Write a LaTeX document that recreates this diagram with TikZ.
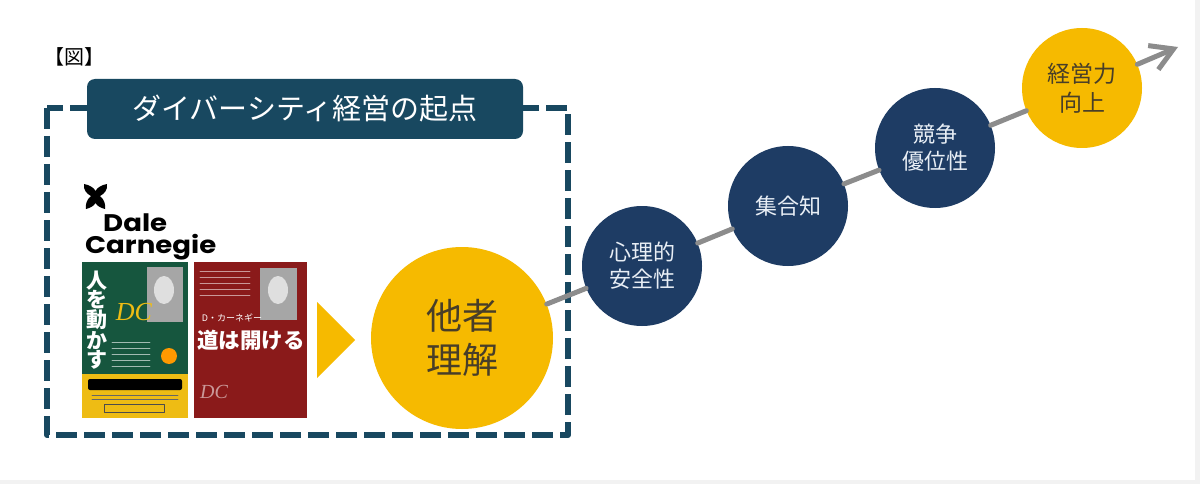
\documentclass[tikz,border=0pt]{standalone}
\usepackage{fontspec}
\setmainfont{Noto Sans CJK JP}
\newfontfamily\logofont{Poppins}
\newfontfamily\dcfont{Liberation Serif}
\usepackage{tikz}
\usetikzlibrary{positioning}
\usetikzlibrary{arrows.meta}
\usetikzlibrary{shapes}

\definecolor{frameteal}{RGB}{24,72,96}
\definecolor{stagenavy}{RGB}{30,60,100}
\definecolor{goalgold}{RGB}{246,186,0}
\definecolor{trendgray}{RGB}{140,140,140}
\definecolor{darktext}{RGB}{72,62,40}
\definecolor{paletext}{RGB}{232,238,245}
\definecolor{bookgreen}{RGB}{22,86,62}
\definecolor{bookred}{RGB}{138,26,26}
\definecolor{bandyellow}{RGB}{238,188,20}

\begin{document}
\begin{tikzpicture}[x=1pt,y=-1pt,line cap=round,line join=round,
  dashframe/.style={draw=frameteal,line width=6pt,line cap=butt,dash pattern=on 21pt off 7pt},
  stage/.style={circle,fill=stagenavy,text=paletext,minimum size=120pt,inner sep=0pt,align=center,font=\fontsize{22}{27}\selectfont},
  goal/.style={circle,fill=goalgold,text=darktext,inner sep=0pt,align=center},
  trend/.style={draw=trendgray,line width=5pt,-{Straight Barb[length=22pt,width=26pt]}},
  logotext/.style={anchor=base west,inner sep=0pt,font=\logofont\bfseries\fontsize{24}{24}\selectfont},
  coverline/.style={line width=0.8pt}]
\fill[black!5] (0,0) rectangle (1200,484);
\fill[white] (0,0) rectangle (1195,480);
\useasboundingbox (0,0) rectangle (1200,484);
\node (zu) at (74,57) {\fontsize{20}{20}\selectfont 【図】};
% frame and heading
\draw[dashframe] (47,108) rectangle (568,435);
\node[fill=frameteal,rounded corners=8pt,minimum width=436pt,minimum height=60pt,text=white,font=\fontsize{29}{29}\selectfont] (heading) at (305,109) {ダイバーシティ経営の起点};
% logo
\fill[black] (84,184) .. controls (90,185) and (94,188) .. (95.5,191)
  .. controls (97,188) and (101,185) .. (107,184)
  .. controls (108,190) and (104,194) .. (100,196)
  .. controls (104,199) and (106,205) .. (105,209)
  .. controls (101,208) and (97,206) .. (95.5,203)
  .. controls (94,206) and (90,208) .. (86,209)
  .. controls (85,205) and (87,199) .. (91,196)
  .. controls (87,194) and (83,190) .. (84,184) -- cycle;
\node[logotext] (dale) at (103,231) {\scalebox{1.15}[1]{Dale}};
\node[logotext] (carnegie) at (85,253) {\scalebox{1.15}[1]{Carnegie}};
% green book
\fill[bookgreen] (82,262) rectangle (188,418);
\fill[bandyellow] (82,374) rectangle (188,418);
\fill[black,rounded corners=2pt] (88,379) rectangle (182,390);
\draw[coverline,black!60] (92,395) -- (178,395);
\draw[coverline,black!60] (92,399) -- (178,399);
\draw[coverline,black!70] (104,404) rectangle (164,412);
\fill[gray!70] (147,267) rectangle (183,322);
\fill[gray!25] (164,290) ellipse (10pt and 14pt);
\fill[orange!80!yellow] (169,356) circle (8pt);
\foreach \y in {342,348,354,360,366}
  \draw[coverline,white!60!bookgreen] (112,\y) -- (150,\y);
\node[text=bandyellow,font=\dcfont\itshape\fontsize{26}{26}\selectfont] (dcgreen) at (134,312) {DC};
\node[text=white,inner sep=0pt,align=center,font=\bfseries\fontsize{21}{19.2}\selectfont] (hito) at (97,320) {人\\を\\動\\か\\す};
% red book
\fill[bookred] (194,262) rectangle (307,418);
\foreach \y in {271,277,283,289,295}
  \draw[coverline,white!55!bookred] (200,\y) -- (250,\y);
\fill[gray!70] (260,268) rectangle (297,320);
\fill[gray!25] (278,290) ellipse (10pt and 14pt);
\node[text=white,font=\fontsize{9}{9}\selectfont] (author) at (232,318) {D・カーネギー};
\node[text=white,inner sep=0pt,font=\bfseries\fontsize{21.5}{21.5}\selectfont] (michi) at (251,340) {道は開ける};
\node[text=bookred!45!white,font=\dcfont\itshape\fontsize{20}{20}\selectfont] (dcred) at (214,392) {DC};
% triangle
\fill[goalgold] (317,302) -- (355,340) -- (317,378) -- cycle;
% stages
\node[goal,minimum size=182pt,font=\fontsize{36}{44}\selectfont] (tasha) at (462,338) {他者\\理解};
\node[stage] (shinri) at (642,266) {心理的\\安全性};
\node[stage] (shugo) at (788,206) {集合知};
\node[stage] (kyoso) at (935,148) {競争\\優位性};
\node[goal,minimum size=120pt,font=\fontsize{23}{29}\selectfont] (keiei) at (1082,88) {経営力\\向上};
\coordinate (tip) at (1178,47);
\draw[trend] (tasha) -- (shinri) -- (shugo) -- (kyoso) -- (keiei) -- (tip);
\end{tikzpicture}
\end{document}
